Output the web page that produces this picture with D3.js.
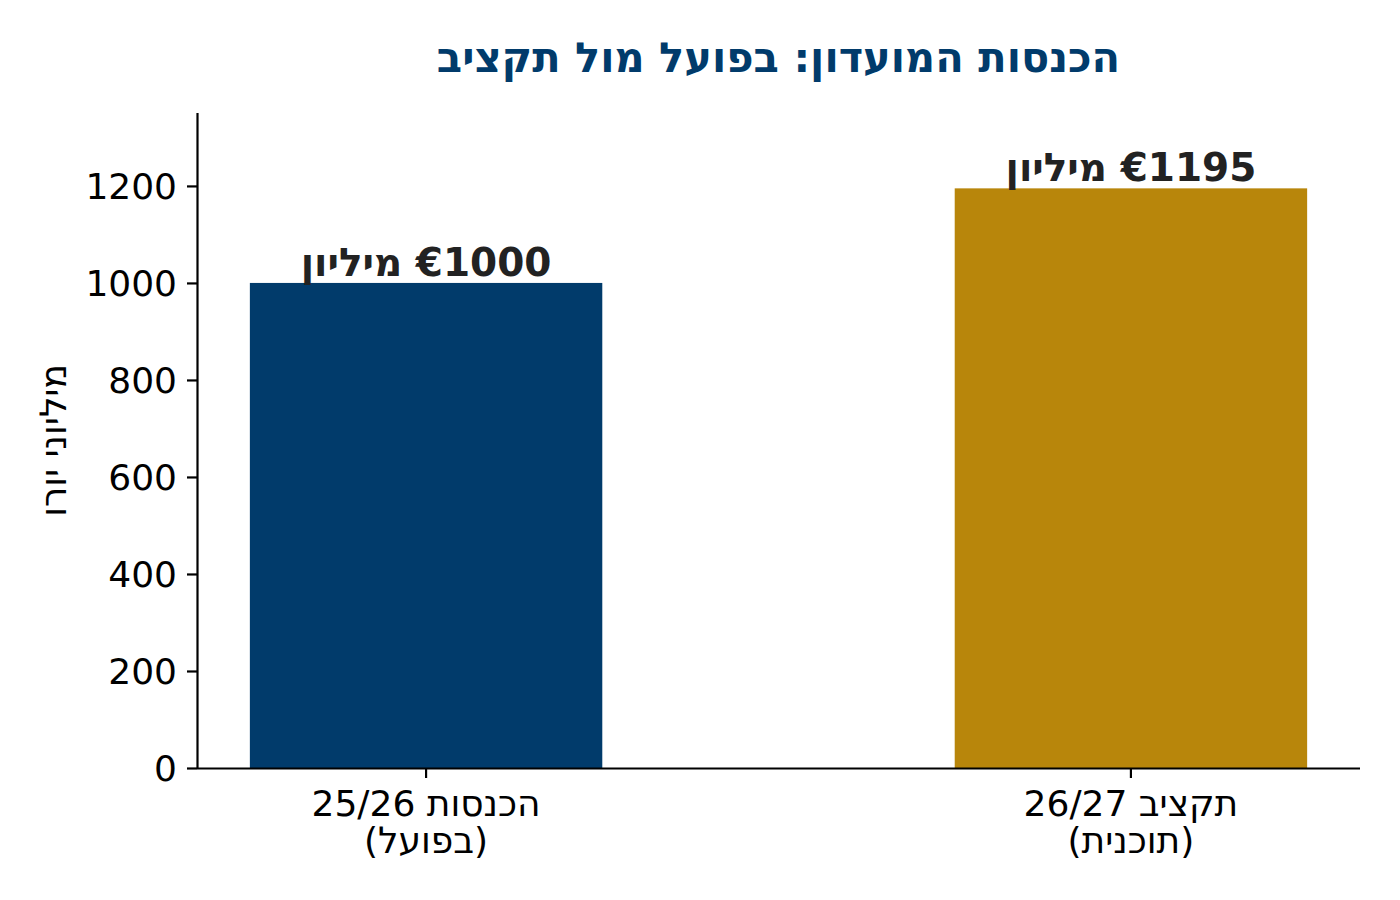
<!DOCTYPE html>
<html lang="he">
<head>
<meta charset="UTF-8">
<title>הכנסות המועדון</title>
<script src="https://cdn.jsdelivr.net/npm/d3@7"></script>
<style>
  body { margin: 0; background: #fff; }
  svg { display: block; font-family: "DejaVu Sans", sans-serif; }
</style>
</head>
<body>
<svg id="chart" width="1400" height="900"></svg>
<script>
// data
const categories = ["הכנסות 25/26", "תקציב 26/27"];
const subLabels = ["(בפועל)", "(תוכנית)"];
const values = [1000, 1195];
const yTicks = [0, 200, 400, 600, 800, 1000, 1200];
const titleText = "הכנסות המועדון: בפועל מול תקציב";
const yLabel = "מיליוני יורו";

const svg = d3.select("#chart");
const m = { left: 197, right: 1360, top: 113, bottom: 768 };

const x = d3.scaleBand()
  .domain(categories)
  .range([m.left, m.right])
  .paddingInner(0.5)
  .paddingOuter(0.075);

const y = d3.scaleLinear()
  .domain([0, d3.max(values) * 1.13])
  .range([m.bottom, m.top]);

const color = d3.scaleOrdinal()
  .domain(categories)
  .range(["#013b6b", "#b8860b"]);

const rows = categories.map((c, i) => ({ cat: c, sub: subLabels[i], val: values[i] }));

// bars
svg.append("g").selectAll("rect")
  .data(rows)
  .join("rect")
  .attr("x", d => x(d.cat))
  .attr("width", x.bandwidth())
  .attr("y", d => y(d.val))
  .attr("height", d => y(0) - y(d.val))
  .attr("fill", d => color(d.cat));

// value labels
svg.append("g").selectAll("text")
  .data(rows)
  .join("text")
  .attr("x", d => x(d.cat) + x.bandwidth() / 2)
  .attr("y", d => y(d.val) - 7)
  .attr("direction", "rtl")
  .attr("text-anchor", "middle")
  .attr("font-size", 39)
  .attr("font-weight", "bold")
  .attr("fill", "#222222")
  .text(d => "€" + d.val + " מיליון");

// y axis
const yAxis = svg.append("g")
  .attr("transform", `translate(${m.left},0)`)
  .call(d3.axisLeft(y).tickValues(yTicks).tickFormat(d3.format("d"))
    .tickSize(10).tickPadding(10).tickSizeOuter(0));
yAxis.select(".domain").attr("stroke", "#000").attr("stroke-width", 2.2)
  .attr("d", `M0.5,${m.top}V${m.bottom}`);
yAxis.selectAll(".tick line").attr("stroke", "#000").attr("stroke-width", 2.2);
yAxis.selectAll(".tick text")
  .attr("font-size", 36)
  .attr("font-family", "DejaVu Sans")
  .attr("fill", "#000")
  .attr("dy", "0.36em");

// x axis
const xAxis = svg.append("g")
  .attr("transform", `translate(0,${m.bottom})`)
  .call(d3.axisBottom(x).tickSize(10).tickSizeOuter(0).tickFormat(""));
xAxis.select(".domain").attr("stroke", "#000").attr("stroke-width", 2.2)
  .attr("d", `M${m.left},0.5H${m.right}`);
xAxis.selectAll(".tick line").attr("stroke", "#000").attr("stroke-width", 2.2);

const xl = svg.append("g").selectAll("text")
  .data(rows)
  .join("text")
  .attr("x", d => x(d.cat) + x.bandwidth() / 2)
  .attr("y", 816)
  .attr("direction", "rtl")
  .attr("text-anchor", "middle")
  .attr("font-size", 36)
  .attr("fill", "#000");
xl.append("tspan").attr("x", d => x(d.cat) + x.bandwidth() / 2).text(d => d.cat);
xl.append("tspan").attr("x", d => x(d.cat) + x.bandwidth() / 2).attr("dy", 37).text(d => d.sub);

// y label
svg.append("text")
  .attr("transform", `translate(66,${(m.top + m.bottom) / 2}) rotate(-90)`)
  .attr("direction", "rtl")
  .attr("text-anchor", "middle")
  .attr("font-size", 36)
  .attr("fill", "#000")
  .text(yLabel);

// title
svg.append("text")
  .attr("x", (m.left + m.right) / 2)
  .attr("y", 72)
  .attr("direction", "rtl")
  .attr("text-anchor", "middle")
  .attr("font-size", 41.6)
  .attr("font-weight", "bold")
  .attr("fill", "#013b6b")
  .text(titleText);
</script>
</body>
</html>
